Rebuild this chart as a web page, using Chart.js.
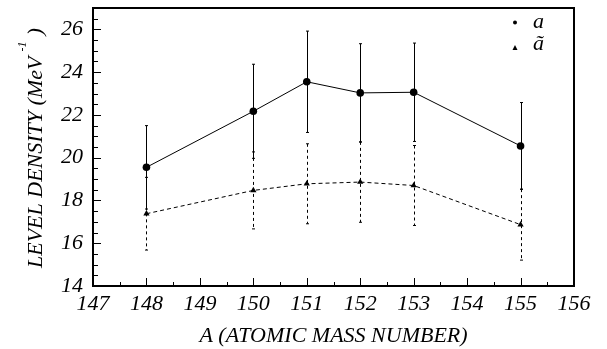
<!DOCTYPE html>
<html lang="en">

<head>
    <meta charset="UTF-8">
    <title>Level density vs mass number</title>
    <style>
        html, body {
            margin: 0;
            padding: 0;
            background: #ffffff;
        }

        .container {
            width: 607px;
            height: 349px;
        }
    </style>
</head>

<body>

    <div class="container">
        <canvas id="densityChart"></canvas>
    </div>

    <script src="https://cdn.jsdelivr.net/npm/chart.js"></script>
    <script>
        // Values
        const massNumbers = [148, 150, 151, 152, 153, 155];
        const aValues = [19.55, 22.17, 23.55, 23.03, 23.06, 20.55];
        const aErrors = [1.95, 2.2, 2.37, 2.3, 2.3, 2.03];
        const aTildeValues = [17.38, 18.47, 18.78, 18.86, 18.7, 16.87];
        const aTildeErrors = [1.7, 1.8, 1.87, 1.88, 1.87, 1.66];

        const xLimits = [147, 156];
        const yLimits = [14, 27];
        const yTickValues = [14, 16, 18, 20, 22, 24, 26];

        const serif = "'Liberation Serif', 'Times New Roman', serif";

        const toPoints = (values) => massNumbers.map((m, i) => ({ x: m, y: values[i] }));

        // Vertical error bars, solid for a and dashed for a~
        const errorBarPlugin = {
            id: 'errorBars',
            beforeDatasetsDraw(chart) {
                const { ctx, scales: { x, y } } = chart;
                const series = [
                    { values: aValues, errors: aErrors, dash: [] },
                    { values: aTildeValues, errors: aTildeErrors, dash: [3, 3] },
                ];
                ctx.save();
                ctx.strokeStyle = '#000';
                ctx.lineWidth = 1;
                series.forEach(s => {
                    massNumbers.forEach((m, i) => {
                        const px = Math.round(x.getPixelForValue(m)) + 0.5;
                        const top = y.getPixelForValue(s.values[i] + s.errors[i]);
                        const bot = y.getPixelForValue(s.values[i] - s.errors[i]);
                        ctx.setLineDash(s.dash);
                        ctx.beginPath();
                        ctx.moveTo(px, top);
                        ctx.lineTo(px, bot);
                        ctx.stroke();
                        ctx.setLineDash([]);
                        ctx.beginPath();
                        ctx.moveTo(px - 1.5, top);
                        ctx.lineTo(px + 1.5, top);
                        ctx.moveTo(px - 1.5, bot);
                        ctx.lineTo(px + 1.5, bot);
                        ctx.stroke();
                    });
                });
                ctx.restore();
            }
        };

        // Frame, inward ticks, y title with superscript and the legend
        const framePlugin = {
            id: 'frame',
            afterDraw(chart) {
                const { ctx, chartArea: area, scales: { x, y } } = chart;
                ctx.save();
                ctx.strokeStyle = '#000';
                ctx.lineWidth = 1;

                ctx.beginPath();
                for (let v = yLimits[0]; v <= yLimits[1]; v += 0.5) {
                    const py = Math.round(y.getPixelForValue(v)) + 0.5;
                    const len = v % 2 === 0 ? 8 : 5;
                    ctx.moveTo(area.left, py);
                    ctx.lineTo(area.left + len, py);
                }
                for (let v = xLimits[0]; v <= xLimits[1]; v += 0.5) {
                    const px = Math.round(x.getPixelForValue(v)) + 0.5;
                    const len = Number.isInteger(v) ? 8 : 4;
                    ctx.moveTo(px, area.bottom);
                    ctx.lineTo(px, area.bottom - len);
                }
                ctx.stroke();

                ctx.lineWidth = 2;
                ctx.strokeRect(area.left, area.top, area.right - area.left, area.bottom - area.top);

                // y axis title
                ctx.fillStyle = '#000';
                ctx.translate(42, 268);
                ctx.rotate(-Math.PI / 2);
                ctx.textAlign = 'left';
                ctx.textBaseline = 'alphabetic';
                ctx.font = 'italic 22px ' + serif;
                const main = 'LEVEL DENSITY (MeV';
                const w = ctx.measureText(main).width;
                ctx.fillText(main, 0, 0);
                ctx.font = 'italic 12px ' + serif;
                ctx.fillText('-1', w + 5, -16);
                ctx.font = 'italic 22px ' + serif;
                ctx.fillText(')', w + 21, 0);
                ctx.setTransform(1, 0, 0, 1, 0, 0);

                // legend
                const lx = area.right - 59;
                ctx.beginPath();
                ctx.arc(lx, 22.5, 2, 0, Math.PI * 2);
                ctx.fill();
                ctx.beginPath();
                ctx.moveTo(lx - 2.5, 50);
                ctx.lineTo(lx + 2.5, 50);
                ctx.lineTo(lx, 45);
                ctx.closePath();
                ctx.fill();
                ctx.font = 'italic 22px ' + serif;
                ctx.fillText('a', lx + 18, 28);
                ctx.fillText('\u00e3', lx + 18, 50);
                ctx.restore();
            }
        };

        const data = {
            datasets: [
                {
                    label: 'a',
                    data: toPoints(aValues),
                    showLine: true,
                    borderColor: '#000',
                    borderWidth: 1,
                    pointStyle: 'circle',
                    pointRadius: 3.8,
                    pointBackgroundColor: '#000',
                    pointBorderColor: '#000',
                    pointBorderWidth: 0,
                },
                {
                    label: '\u00e3',
                    data: toPoints(aTildeValues),
                    showLine: true,
                    borderColor: '#000',
                    borderWidth: 1,
                    borderDash: [4, 3],
                    pointStyle: 'triangle',
                    pointRadius: 3.6,
                    pointBackgroundColor: '#000',
                    pointBorderColor: '#000',
                    pointBorderWidth: 0,
                },
            ]
        };

        const config = {
            type: 'scatter',
            data: data,
            options: {
                responsive: true,
                maintainAspectRatio: false,
                animation: false,
                layout: {
                    padding: { top: 8, right: 33, left: 0, bottom: 0 }
                },
                plugins: {
                    legend: { display: false },
                    tooltip: { enabled: false },
                },
                scales: {
                    x: {
                        type: 'linear',
                        min: xLimits[0],
                        max: xLimits[1],
                        grid: { display: false, drawTicks: false },
                        border: { display: false },
                        ticks: {
                            stepSize: 1,
                            padding: 5,
                            color: '#000',
                            font: { family: serif, size: 22, style: 'italic' },
                        },
                        title: {
                            display: true,
                            text: 'A (ATOMIC MASS NUMBER)',
                            color: '#000',
                            font: { family: serif, size: 22, style: 'italic' },
                            padding: { top: 0, bottom: 0 },
                        },
                        afterFit(scale) {
                            scale.height = 63;
                            scale.paddingLeft = 0;
                            scale.paddingRight = 0;
                        },
                    },
                    y: {
                        min: yLimits[0],
                        max: yLimits[1],
                        grid: { display: false, drawTicks: false },
                        border: { display: false },
                        ticks: {
                            padding: 10,
                            color: '#000',
                            font: { family: serif, size: 22, style: 'italic' },
                        },
                        afterBuildTicks(scale) {
                            scale.ticks = yTickValues.map(v => ({ value: v }));
                        },
                        afterFit(scale) {
                            scale.width = 93;
                            scale.paddingTop = 0;
                            scale.paddingBottom = 0;
                        },
                    },
                },
            },
            plugins: [errorBarPlugin, framePlugin],
        };

        new Chart(document.getElementById('densityChart'), config);
    </script>
</body>

</html>
